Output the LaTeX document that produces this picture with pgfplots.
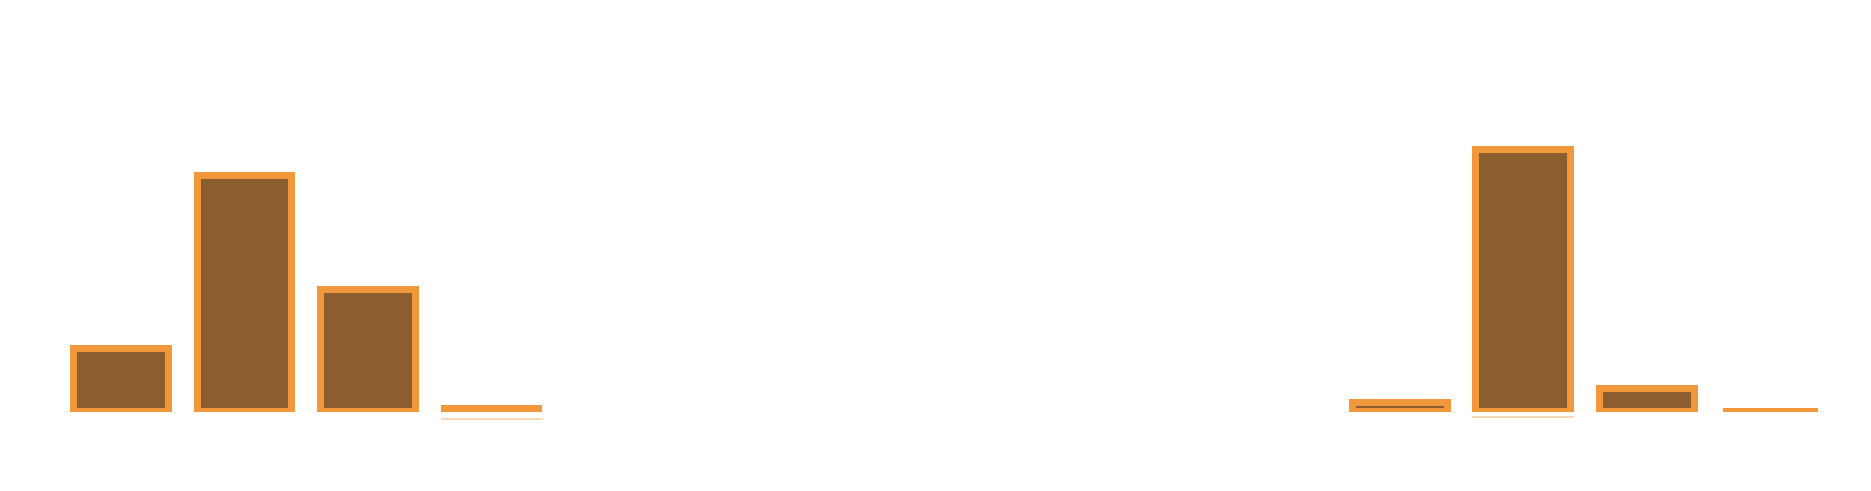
\documentclass[border=0pt]{standalone}
\usepackage{pgfplots}
\pgfplotsset{compat=1.18}
\definecolor{barfill}{HTML}{8B5E30}
\definecolor{baredge}{HTML}{F0983A}
\definecolor{faint}{HTML}{F5D9B5}
\begin{document}
\begin{tikzpicture}
\pgfplotsset{common/.style={scale only axis, width=935.5pt, height=206pt,
  xmin=-0.9798, xmax=14.170, ymin=2, ymax=414, hide axis}}
\begin{axis}[common, ybar, bar width=0.769, bar shift=0pt]
\addplot[fill=barfill, draw=baredge, line width=3.5pt] coordinates {
  (0,65.5) (1,238.5) (2,124.5) (3,5.5)
  (10.356,11.5) (11.356,264.5) (12.356,25.5) (13.356,2)};
\end{axis}
\begin{axis}[common, clip=false]
\addplot[only marks, mark=-, mark size=25.5pt, mark options={line width=0.75pt, color=faint}]
  coordinates {(3,-5) (11.356,-3)};
\path[draw=none] (axis cs:-0.9798,-77) rectangle (axis cs:14.170,414);
\end{axis}
\end{tikzpicture}
\end{document}
